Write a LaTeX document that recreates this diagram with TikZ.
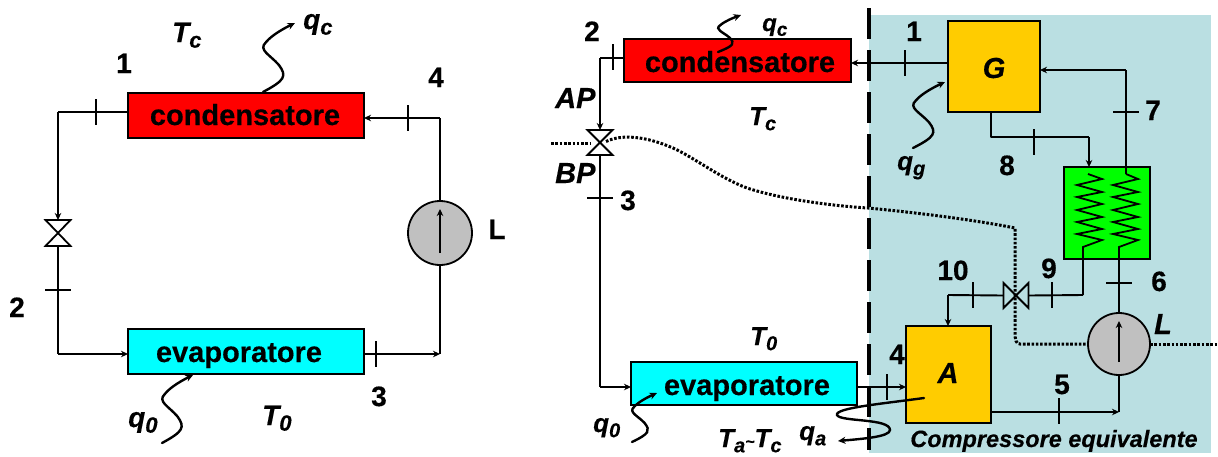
\documentclass[tikz,border=0pt]{standalone}
\usepackage{fontspec}
\setmainfont[BoldFeatures={FakeBold=0.4},BoldItalicFeatures={FakeBold=0.4}]{Liberation Sans}
\usetikzlibrary{arrows.meta}
\definecolor{bgblue}{HTML}{BADFE2}
\definecolor{hxgreen}{HTML}{00FF00}
\definecolor{genor}{HTML}{FFCC00}
\definecolor{pumpgray}{HTML}{C0C0C0}
\definecolor{evapcyan}{HTML}{00FFFF}
\definecolor{condred}{HTML}{FF0000}
\newcommand{\fs}[1]{\fontsize{#1}{#1}\selectfont}
\newcommand{\Sym}[4]{{\fs{#1}\bfseries\itshape #2\raisebox{-0.2em}{\fs{#3}#4}}}
\newcommand{\Wave}[6]{%
  \begin{scope}[shift={(#2,#3)},x=#4pt,y=#5pt]
    \coordinate (#1a) at (0,0);
    \coordinate (#1b) at (1,1);
    \draw[heat,#6] (#1a) .. controls (.69,.17) and (.75,.23) .. (.5,.39)
      .. controls (.22,.54) and (-.16,.61) .. (.09,.72)
      .. controls (.28,.83) and (.69,.93) .. (#1b);
  \end{scope}}
\newcommand{\TickV}[3]{\coordinate (#1u) at (#2,#3-13); \coordinate (#1d) at (#2,#3+13); \draw[tick] (#1u) -- (#1d);}
\newcommand{\TickH}[3]{\coordinate (#1l) at (#2-13,#3); \coordinate (#1r) at (#2+13,#3); \draw[tick] (#1l) -- (#1r);}
\newcommand{\Coil}[3]{\draw[line width=1.8pt,line join=miter] (#1+#3,174) -- (#1+25,179)
  -- (#1,185) -- (#1+25,192) -- (#1,197) -- (#1+25,204) -- (#1,210) -- (#1+25,217) -- (#1,222) -- (#1+25,229) -- (#1,234) -- (#1+25,240) -- (#2,247) -- (#2,259);}
\tikzset{
  x=1pt,y=-1pt,
  tip/.style={-{Stealth[length=7pt,width=6.5pt]}},
  pipe/.style={line width=1.9pt,line join=round},
  pipeb/.style={line width=2.6pt,line join=round},
  tick/.style={line width=1.7pt},
  heat/.style={line width=2.4pt,-{Stealth[length=7.5pt,width=7pt]},line cap=round},
  dots/.style={line width=3pt,dash pattern=on 2.6pt off 1.7pt},
  box/.style={draw,line width=1.9pt,inner sep=0pt,outer sep=0pt,anchor=north west},
  vbox/.style={inner sep=0pt,outer sep=0pt,minimum width=25pt,minimum height=25pt},
  valveshape/.style={line width=1.8pt,line join=miter},
  pumpc/.style={circle,draw,line width=1.8pt,fill=pumpgray,inner sep=0pt,outer sep=0pt},
  lab/.style={inner sep=0pt,anchor=base,font=\fs{28}\bfseries},
  labl/.style={inner sep=0pt,anchor=base west},
  equip/.style={inner sep=0pt,anchor=base,font=\fs{29}\bfseries},
}
\begin{document}
\begin{tikzpicture}
\path[use as bounding box,fill=white] (0,0) rectangle (1218,456);
% ---------- right background ----------
\fill[bgblue] (869,15) rectangle (1211,453);
% ---------- LEFT CYCLE ----------
\node[box,fill=condred,minimum width=236pt,minimum height=45pt] (LC) at (128,93) {};
\node[box,fill=evapcyan,minimum width=236pt,minimum height=45pt] (LE) at (128,329) {};
\node[equip] (LCt) at (245,125) {condensatore};
\node[equip] (LEt) at (239,362) {evaporatore};
\node[vbox,minimum height=26pt] (LV) at (58,233) {};
\draw[valveshape] (LV.north west) -- (LV.north east) -- (LV.south west) -- (LV.south east) -- cycle;
\node[pumpc,minimum size=64pt] (LP) at (440,233) {};
\coordinate (LC1) at (58,112);
\coordinate (LC2) at (58,354);
\coordinate (LC3) at (440,354);
\coordinate (LC4) at (440,118);
\draw[pipe] (LC.west |- LC1) -- (LC1);
\draw[pipeb,tip] (LC1) -- (LV.north);
\draw[pipe] (LV.south) -- (LC2);
\draw[pipeb,tip] (LC2) -- (LE.west |- LC2);
\draw[pipeb,tip] (LE.east |- LC3) -- (LC3);
\draw[pipe] (LC3) -- (LP.south);
\draw[pipe] (LP.north) -- (LC4);
\draw[pipeb,tip] (LC4) -- (LC.east |- LC4);
\coordinate (LPi) at (440,253);
\coordinate (LPo) at (440,209);
\draw[line width=2.6pt,tip] (LPi) -- (LPo);
\TickV{t1}{96}{112}
\TickV{t4}{408}{118}
\TickH{t2}{58}{290}
\TickV{t3}{376}{354}
\Wave{qcl}{263}{92}{32}{69}{}
\Wave{qol}{162}{443}{31}{68}{}
\node[lab] (l1) at (124,73) {1};
\node[lab] (l4) at (436,87) {4};
\node[lab] (l2) at (17,317) {2};
\node[lab] (l3) at (379,406) {3};
\node[lab] (lL) at (497,239) {L};
\node[labl] (lTc) at (172,42) {\Sym{28}{T}{22}{c}};
\node[labl] (lqc) at (303,29) {\Sym{28}{q}{22}{c}};
\node[labl] (lTo) at (262,425) {\Sym{28}{T}{22}{0}};
\node[labl] (lqo) at (128,427) {\Sym{28}{q}{22}{0}};
% ---------- RIGHT CYCLE ----------
\node[box,fill=condred,minimum width=227pt,minimum height=43pt] (RC) at (624,39) {};
\node[box,fill=evapcyan,minimum width=226pt,minimum height=43pt] (RE) at (631,362) {};
\node[box,fill=genor,minimum width=92pt,minimum height=91pt] (G) at (948,21) {};
\node[box,fill=genor,minimum width=85pt,minimum height=97pt] (A) at (906,326) {};
\node[box,fill=hxgreen,minimum width=86pt,minimum height=92pt] (HX) at (1064,167) {};
\node[equip] (RCt) at (740,72) {condensatore};
\node[equip] (REt) at (747,395) {evaporatore};
\node[vbox] (RV) at (600,142.5) {};
\draw[valveshape] (RV.north west) -- (RV.north east) -- (RV.south west) -- (RV.south east) -- cycle;
\node[vbox] (RW) at (1016,295.5) {};
\draw[valveshape] (RW.north west) -- (RW.south west) -- (RW.north east) -- (RW.south east) -- cycle;
\node[pumpc,minimum size=62pt] (RP) at (1119,344) {};
% dotted work line
\coordinate (D0) at (551,143);
\coordinate (D1) at (1015,228);
\coordinate (D2) at (1020,344);
\coordinate (D3) at (1218,344);
\coordinate (D4) at (590,143);
\coordinate (D5) at (606,141.5);
\draw[dots] (D0) -- (D4);
\draw[dots] (D5) .. controls (622,134) and (645,136) .. (673,148)
  .. controls (695,158) and (720,178) .. (747,188)
  .. controls (790,202) and (850,207) .. (868,208)
  .. controls (920,213) and (975,220) .. (D1)
  -- (1015,332) .. controls (1015,340) and (1016,344) .. (D2) -- (RP.west);
\draw[dots] (RP.east) -- (D3);
% pipes
\coordinate (R1) at (600,58);
\draw[pipe] (RC.west |- R1) -- (R1);
\draw[pipeb,tip] (R1) -- (RV.north);
\coordinate (R2) at (600,387);
\draw[pipe] (RV.south) -- (R2);
\draw[pipeb,tip] (R2) -- (RE.west |- R2);
\coordinate (R3) at (948,63);
\draw[pipe,tip] (G.west |- R3) -- (RC.east |- R3);
\coordinate (R4) at (1126,70);
\draw[pipeb,tip] (R4) -- (G.east |- R4);
\coordinate (R5) at (1126,174);
\draw[pipe] (R5) -- (R4);
\coordinate (R6) at (991,137);
\coordinate (R7) at (1089,137);
\draw[pipe] (G.south -| R6) -- (R6) -- (R7);
\draw[pipe,tip] (R7) -- (HX.north -| R7);
\coordinate (R8) at (1083,295);
\draw[pipe] (R8) -- (RW.east);
\coordinate (R9) at (948,295);
\draw[pipe] (RW.west) -- (R9);
\draw[pipeb,tip] (R9) -- (A.north -| R9);
\coordinate (R12) at (857,387);
\draw[pipeb,tip] (RE.east |- R12) -- (A.west |- R12);
\coordinate (R10) at (1119,412);
\draw[pipeb,tip] (A.east |- R10) -- (R10);
\draw[pipe] (R10) -- (RP.south);
\coordinate (R11) at (1119,259);
\draw[pipe] (RP.north) -- (R11);
\coordinate (RPi) at (1119,362);
\coordinate (RPo) at (1119,321);
\draw[line width=2.6pt,tip] (RPi) -- (RPo);
% coils
\Coil{1077}{1083}{11}
\Coil{1113}{1119}{13}
\coordinate (R13) at (1083,259);
\draw[pipe] (R13) -- (R8);
% ticks
\TickV{r2}{613}{57}
\TickH{r3}{600}{198}
\TickV{r1}{905}{63}
\TickH{r7}{1126}{112}
\TickV{r8}{1034}{142}
\TickV{r10}{973}{295}
\TickV{r9}{1052}{295}
\TickH{r6}{1119}{283}
\TickV{r5}{1059}{411}
\TickV{r4}{887}{387}
% heat waves
\Wave{qcr}{718}{52}{23}{37}{}
\Wave{qgr}{913}{148}{32}{66}{}
\Wave{qor}{632}{442}{25}{49}{}
\coordinate (qaa) at (924,398);
\coordinate (qab) at (838,441);
\draw[heat] (qaa) .. controls (880,404) and (835,408) .. (837,415)
  .. controls (840,422) and (890,418) .. (890,430)
  .. controls (890,437) and (860,439) .. (qab);
% dashed divider
\coordinate (Da) at (869,8);
\coordinate (Db) at (869,450);
\draw[line width=3.6pt,dash pattern=on 31pt off 11pt] (Da) -- (Db);
% labels
\node[lab] (r2l) at (592,41) {2};
\node[lab] (r3l) at (628,210) {3};
\node[lab] (r1l) at (914,41) {1};
\node[lab] (r7l) at (1153,120) {7};
\node[lab] (r8l) at (1007,175) {8};
\node[lab] (r10l) at (953,280) {10};
\node[lab] (r9l) at (1049,278) {9};
\node[lab] (r6l) at (1159,291) {6};
\node[lab] (r5l) at (1062,394) {5};
\node[lab] (r4l) at (897,364) {4};
\node[lab,font=\fs{29}\bfseries\itshape] (rG) at (994,78) {G};
\node[lab,font=\fs{29}\bfseries\itshape] (rA) at (948,383) {A};
\node[lab,font=\fs{29}\bfseries\itshape] (rL) at (1163,334) {L};
\node[labl,font=\fs{29}\bfseries\itshape] (rAP) at (555,108) {AP};
\node[labl,font=\fs{29}\bfseries\itshape] (rBP) at (555,183) {BP};
\node[labl] (rqc) at (762,31) {\Sym{24}{q}{19}{c}};
\node[labl] (rTc) at (749,125) {\Sym{26}{T}{20}{c}};
\node[labl] (rTo) at (750,345) {\Sym{26}{T}{20}{0}};
\node[labl] (rqo) at (593,432) {\Sym{26}{q}{20}{0}};
\node[labl] (rqg) at (897,170) {\Sym{26}{q}{20}{g}};
\node[labl] (rqa) at (799,440) {\Sym{26}{q}{20}{a}};
\node[labl] (rTa) at (718,447) {\Sym{26}{T}{20}{a}{\fs{16}\bfseries\itshape\char`\~}\Sym{26}{T}{20}{c}};
\node[inner sep=0pt,anchor=base,font=\fs{23.5}\bfseries\itshape] (rCE) at (1054,447) {Compressore equivalente};
\end{tikzpicture}
\end{document}
